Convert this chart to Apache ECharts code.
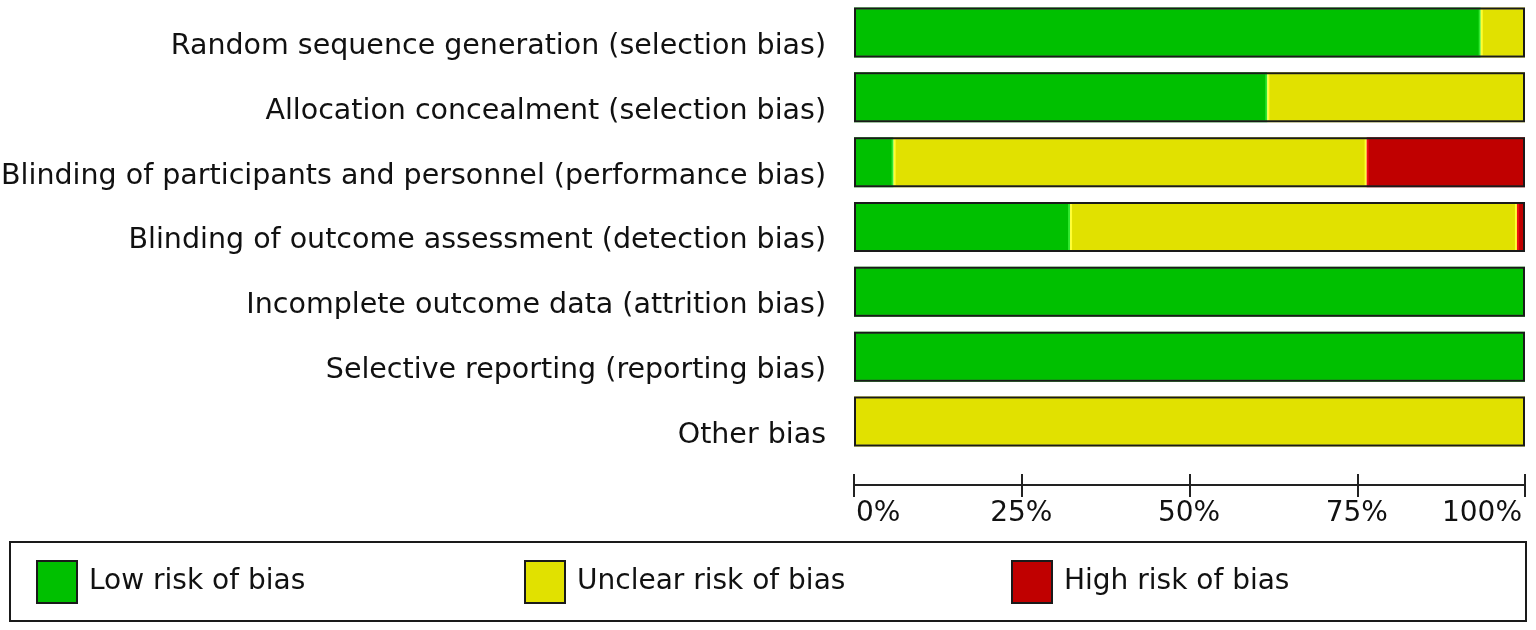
<!DOCTYPE html>
<html>
<head>
<meta charset="utf-8">
<script src="https://cdn.jsdelivr.net/npm/echarts@6/dist/echarts.min.js"></script>
<style>
html,body{margin:0;padding:0;background:#fff;}
#c{width:1536px;height:630px;}
</style>
</head>
<body>
<div id="c"></div>
<script>
const categories = [
  'Random sequence generation (selection bias)',
  'Allocation concealment (selection bias)',
  'Blinding of participants and personnel (performance bias)',
  'Blinding of outcome assessment (detection bias)',
  'Incomplete outcome data (attrition bias)',
  'Selective reporting (reporting bias)',
  'Other bias'
];
const lowRisk     = [93.4, 61.6, 5.9, 32.2, 100, 100, 0];
const unclearRisk = [6.6, 38.4, 70.5, 66.6, 0, 0, 100];
const highRisk    = [0, 0, 23.6, 1.2, 0, 0, 0];
const seriesNames = ['Low risk of bias', 'Unclear risk of bias', 'High risk of bias'];
const tickValues = [0, 25, 50, 75, 100];

const FONT = 'DejaVu Sans';
const totals = categories.map((c, i) => lowRisk[i] + unclearRisk[i] + highRisk[i]);
const nz = arr => arr.map(v => (v === 0 ? null : v));

const colors = ['#00C000', '#E1E100', '#C00000'];
const edges = ['#30E830', '#FFFF30', '#F01010'];
const dataSets = [lowRisk, unclearRisk, highRisk];

const chart = echarts.init(document.getElementById('c'), null, {renderer: 'canvas'});

const segSeries = dataSets.map((d, k) => ({
  name: seriesNames[k],
  type: 'bar',
  stack: 'risk',
  barWidth: 50,
  data: nz(d),
  itemStyle: {color: colors[k], borderColor: edges[k], borderWidth: 2},
  emphasis: {disabled: true},
  z: 2
}));

const outline = {
  name: 'outline',
  type: 'bar',
  barWidth: 50,
  barGap: '-100%',
  data: totals,
  silent: true,
  itemStyle: {color: 'rgba(0,0,0,0)', borderColor: '#1a1a1a', borderWidth: 2},
  z: 5
};

const legendX = [36, 524, 1011];
const legends = seriesNames.map((n, k) => ({
  data: [n],
  left: legendX[k],
  top: 560,
  padding: 0,
  orient: 'horizontal',
  itemWidth: 40,
  itemHeight: 42,
  icon: 'rect',
  selectedMode: false,
  itemStyle: {color: colors[k], borderColor: '#1a1a1a', borderWidth: 2},
  textStyle: {fontFamily: FONT, fontSize: 28, color: '#111', padding: [0, 0, 0, 7]}
}));

chart.setOption({
  animation: false,
  backgroundColor: '#ffffff',
  grid: {left: 854, right: 11, top: 0, height: 454, containLabel: false, outerBoundsMode: 'none'},
  xAxis: [
    {
      type: 'value', min: 0, max: 100, interval: 25, position: 'bottom', offset: 31,
      axisLine: {show: true, lineStyle: {color: '#222', width: 2}},
      axisTick: {show: true, inside: false, length: 12, lineStyle: {color: '#222', width: 2}},
      splitLine: {show: false},
      axisLabel: {
        show: true, margin: 15, fontFamily: FONT, fontSize: 28, color: '#111',
        alignMinLabel: 'left', alignMaxLabel: 'right', padding: [0, 3, 0, 2],
        formatter: v => (tickValues.indexOf(v) >= 0 ? v + '%' : '')
      }
    },
    {
      type: 'value', min: 0, max: 100, interval: 25, position: 'bottom', offset: 31,
      axisLine: {show: false},
      axisTick: {show: true, inside: true, length: 11, lineStyle: {color: '#222', width: 2}},
      splitLine: {show: false},
      axisLabel: {show: false}
    }
  ],
  yAxis: {
    type: 'category',
    data: categories,
    inverse: true,
    axisLine: {show: false},
    axisTick: {show: false},
    axisLabel: {margin: 28, fontFamily: FONT, fontSize: 28.5, color: '#111', verticalAlign: 'top', lineHeight: 28}
  },
  legend: legends,
  graphic: [{
    type: 'rect',
    shape: {x: 10, y: 542, width: 1516, height: 79},
    style: {fill: 'none', stroke: '#1a1a1a', lineWidth: 2},
    silent: true
  }],
  series: segSeries.concat([outline])
});
</script>
</body>
</html>
